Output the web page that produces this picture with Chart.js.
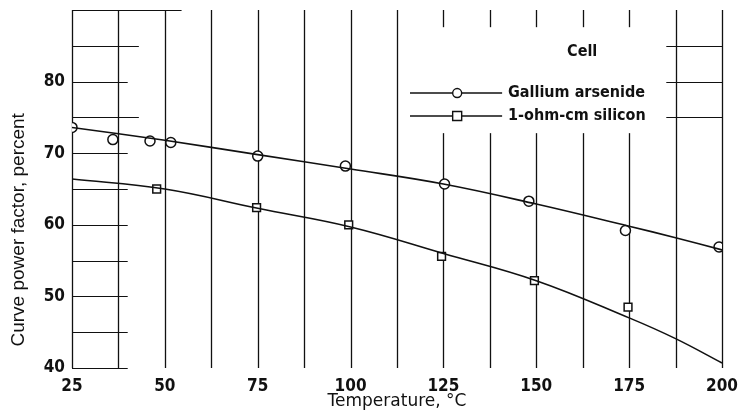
<!DOCTYPE html>
<html>
<head>
<meta charset="utf-8">
<script src="https://cdn.jsdelivr.net/npm/chart.js@4"></script>
<style>
  html, body { margin: 0; padding: 0; background: #fff; }
  #wrap { width: 739px; height: 420px; }
</style>
</head>
<body>
<div id="wrap"><canvas id="chart" width="739" height="420"></canvas></div>
<script>
// measured points
const gaasTemp = [25, 36, 46, 51.6, 75, 98.6, 125.3, 148, 174, 199.2];
const gaasFactor = [73.6, 71.9, 71.7, 71.5, 69.6, 68.2, 65.7, 63.3, 59.2, 56.9];
const siTemp = [47.8, 74.7, 99.5, 124.5, 149.5, 174.7];
const siFactor = [65.0, 62.4, 60.0, 55.6, 52.2, 48.5];

// faired curves
const curveTemp = [25, 50, 75, 100, 125, 150, 175, 187.5, 200];
const gaasCurve = [73.6, 71.8, 69.8, 67.8, 65.7, 62.9, 59.8, 58.2, 56.5];
const siCurve = [66.4, 65.0, 62.3, 59.7, 56.0, 52.2, 47.0, 44.1, 40.7];

const xTicks = [25, 50, 75, 100, 125, 150, 175, 200];
const yTicks = [40, 50, 60, 70, 80];

const seriesNames = ["Gallium arsenide", "1-ohm-cm silicon"];
const legendTitle = "Cell";
const xTitle = "Temperature, \u00B0C";
const yTitle = "Curve power factor, percent";

const tickFont = { family: "'DejaVu Sans Condensed', 'DejaVu Sans'", size: 17, weight: "bold" };
const legendFont = "bold 16px 'DejaVu Sans Condensed', 'DejaVu Sans'";

const zip = (xs, ys) => xs.map((x, i) => ({ x, y: ys[i] }));

// paper grid: full verticals, stub horizontals, blank box round the legend
const gridPlugin = {
  id: "paperGrid",
  beforeDatasetsDraw(chart) {
    const { ctx, chartArea: a, scales: { x, y } } = chart;
    ctx.save();
    ctx.strokeStyle = "#111";
    ctx.lineWidth = 1.3;
    for (let t = 25; t <= 200; t += 12.5) {
      const px = Math.round(x.getPixelForValue(t)) + 0.5;
      ctx.beginPath();
      ctx.moveTo(px, a.top);
      ctx.lineTo(px, a.bottom);
      ctx.stroke();
    }
    ctx.lineWidth = 1.1;
    for (let v = 40; v <= 90; v += 5) {
      const py = Math.round(y.getPixelForValue(v)) + 0.5;
      const end = v === 90 ? 54.5 : (v === 85 || v === 75 ? 43 : 40);
      ctx.beginPath();
      ctx.moveTo(a.left, py);
      ctx.lineTo(x.getPixelForValue(end), py);
      ctx.stroke();
      if (v >= 75 && v <= 85) {
        ctx.beginPath();
        ctx.moveTo(x.getPixelForValue(185), py);
        ctx.lineTo(a.right, py);
        ctx.stroke();
      }
    }
    // clear space for the legend
    ctx.fillStyle = "#fff";
    const lx0 = x.getPixelForValue(113.5), lx1 = x.getPixelForValue(184.5);
    const ly0 = y.getPixelForValue(87.6), ly1 = y.getPixelForValue(72.8);
    ctx.fillRect(lx0, ly0, lx1 - lx0, ly1 - ly0);
    ctx.restore();
  },
  afterDraw(chart) {
    const { ctx, scales: { x, y } } = chart;
    ctx.save();
    ctx.fillStyle = "#111";
    ctx.strokeStyle = "#111";
    // legend
    ctx.font = legendFont;
    ctx.textBaseline = "middle";
    ctx.textAlign = "left";
    ctx.fillText(legendTitle, x.getPixelForValue(158.3), y.getPixelForValue(84.1));
    const lineStart = x.getPixelForValue(116), lineEnd = x.getPixelForValue(140.8);
    const mark = x.getPixelForValue(128.7);
    const textX = x.getPixelForValue(142.4);
    const rows = [y.getPixelForValue(78.4), y.getPixelForValue(75.2)];
    rows.forEach((ry, i) => {
      ctx.lineWidth = 1.4;
      ctx.beginPath();
      ctx.moveTo(lineStart, ry);
      ctx.lineTo(lineEnd, ry);
      ctx.stroke();
      ctx.fillStyle = "#fff";
      ctx.beginPath();
      if (i === 0) {
        ctx.arc(mark, ry, 4.5, 0, Math.PI * 2);
      } else {
        ctx.rect(mark - 4.5, ry - 4.5, 9, 9);
      }
      ctx.fill();
      ctx.stroke();
      ctx.fillStyle = "#111";
      ctx.fillText(seriesNames[i], textX, ry);
    });
    // y axis title, set a little below the middle as in the original
    ctx.font = "19px 'Liberation Sans', Arial";
    ctx.textAlign = "center";
    ctx.translate(19, y.getPixelForValue(59.3));
    ctx.rotate(-Math.PI / 2);
    ctx.fillText(yTitle, 0, 0);
    ctx.restore();
  }
};

new Chart(document.getElementById("chart"), {
  type: "scatter",
  data: {
    datasets: [
      {
        label: seriesNames[0] + " curve",
        type: "line",
        data: zip(curveTemp, gaasCurve),
        borderColor: "#111",
        borderWidth: 1.6,
        pointRadius: 0,
        tension: 0.4,
        fill: false,
      },
      {
        label: seriesNames[1] + " curve",
        type: "line",
        data: zip(curveTemp, siCurve),
        borderColor: "#111",
        borderWidth: 1.6,
        pointRadius: 0,
        tension: 0.4,
        fill: false,
      },
      {
        label: seriesNames[0],
        data: zip(gaasTemp, gaasFactor),
        pointStyle: "circle",
        pointRadius: 5,
        borderColor: "#111",
        borderWidth: 1.5,
        backgroundColor: "#fff",
      },
      {
        label: seriesNames[1],
        data: zip(siTemp, siFactor),
        pointStyle: "rect",
        pointRadius: 5.5,
        borderColor: "#111",
        borderWidth: 1.5,
        backgroundColor: "#fff",
      },
    ],
  },
  options: {
    responsive: false,
    animation: false,
    layout: { padding: { top: 10, right: 17, left: 0, bottom: 0 } },
    plugins: { legend: { display: false }, tooltip: { enabled: false } },
    scales: {
      x: {
        type: "linear",
        min: 25,
        max: 200,
        afterFit: s => { s.height = 52; s.paddingLeft = 0; s.paddingRight = 0; },
        afterBuildTicks: s => { s.ticks = xTicks.map(v => ({ value: v })); },
        grid: { display: false, drawTicks: false },
        border: { display: false },
        ticks: { color: "#111", font: tickFont, padding: 8, maxRotation: 0 },
        title: {
          display: true,
          text: xTitle,
          color: "#111",
          font: { family: "'DejaVu Sans'", size: 17 },
          padding: { top: 0, bottom: 8 },
        },
      },
      y: {
        min: 40,
        max: 90,
        afterFit: s => { s.width = 72; s.paddingTop = 0; s.paddingBottom = 0; },
        afterBuildTicks: s => { s.ticks = yTicks.map(v => ({ value: v })); },
        grid: { display: false, drawTicks: false },
        border: { display: false },
        ticks: { color: "#111", font: tickFont, padding: 7 },
      },
    },
  },
  plugins: [gridPlugin],
});
</script>
</body>
</html>
